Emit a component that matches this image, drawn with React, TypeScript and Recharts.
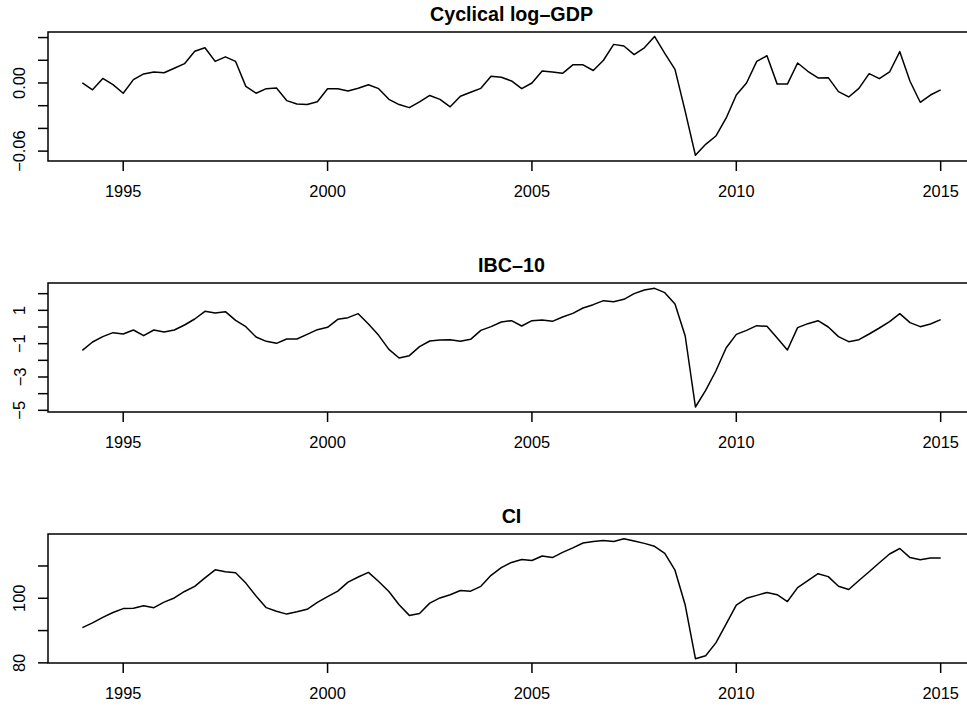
import React from 'react';
import { LineChart, Line, XAxis, YAxis, ReferenceArea } from 'recharts';

// quarterly series, 1994 Q1 .. 2015 Q1
const START_YEAR = 1994;

const gdpCycle = [
  0.0, -0.006, 0.004, -0.0015, -0.009, 0.003, 0.008, 0.0097, 0.009, 0.013,
  0.017, 0.028, 0.031, 0.019, 0.023, 0.019, -0.003, -0.009, -0.005, -0.0045,
  -0.0155, -0.0185, -0.019, -0.0165, -0.005, -0.005, -0.007, -0.0047, -0.0015, -0.005,
  -0.0144, -0.019, -0.0217, -0.0167, -0.011, -0.0144, -0.021, -0.0117, -0.0082, -0.0047,
  0.006, 0.005, 0.0018, -0.005, 0.0, 0.0106, 0.0097, 0.0085, 0.016, 0.016,
  0.011, 0.02, 0.034, 0.0326, 0.025, 0.031, 0.041, 0.026, 0.012, -0.025,
  -0.0637, -0.054, -0.0467, -0.031, -0.0106, 0.0, 0.019, 0.024, -0.001, -0.001,
  0.0176, 0.0103, 0.0044, 0.0047, -0.0076, -0.0123, -0.0047, 0.0082, 0.0038, 0.0097,
  0.0276, 0.0015, -0.017, -0.0106, -0.006,
];

const ibc10 = [
  -1.4, -0.9, -0.58, -0.34, -0.42, -0.18, -0.52, -0.18, -0.3, -0.18,
  0.12, 0.48, 0.94, 0.84, 0.92, 0.4, 0.02, -0.6, -0.86, -0.98,
  -0.72, -0.72, -0.44, -0.16, -0.02, 0.46, 0.56, 0.8, 0.18, -0.5,
  -1.34, -1.86, -1.72, -1.18, -0.84, -0.78, -0.76, -0.86, -0.74, -0.2,
  0.02, 0.3, 0.38, 0.06, 0.38, 0.42, 0.34, 0.6, 0.82, 1.14,
  1.34, 1.58, 1.52, 1.66, 2.0, 2.22, 2.32, 2.06, 1.38, -0.54,
  -4.8, -3.8, -2.64, -1.26, -0.44, -0.2, 0.08, 0.04, -0.66, -1.38,
  -0.04, 0.2, 0.38, 0.0, -0.58, -0.88, -0.76, -0.42, -0.06, 0.32,
  0.8, 0.26, 0.02, 0.18, 0.44,
];

const ci = [
  90.9, 92.4, 94.1, 95.6, 96.8, 96.9, 97.7, 97.1, 98.8, 100.1,
  102.1, 103.7, 106.3, 108.8, 108.2, 107.9, 104.7, 100.7, 97.1, 96.0,
  95.1, 95.8, 96.6, 98.7, 100.5, 102.2, 105.0, 106.6, 108.0, 105.2,
  102.1, 98.0, 94.7, 95.3, 98.5, 100.1, 101.1, 102.4, 102.2, 103.7,
  107.1, 109.5, 111.1, 112.0, 111.7, 113.1, 112.6, 114.2, 115.6, 117.1,
  117.6, 117.9, 117.6, 118.4, 117.7, 117.0, 116.1, 113.9, 108.7, 97.9,
  81.3, 82.2, 86.2, 92.0, 97.9, 100.0, 100.9, 101.8, 101.1, 99.0,
  103.3, 105.5, 107.6, 106.7, 103.7, 102.7, 105.5, 108.2, 111.0, 113.7,
  115.4, 112.6, 111.9, 112.5, 112.5,
];

const yearTicks = [1995, 2000, 2005, 2010, 2015];
const X_DOMAIN = [1993.16, 2015.84];

const minus = (s: string) => s.replace('-', '\u2212');

const panels = [
  {
    title: 'Cyclical log\u2013GDP',
    values: gdpCycle,
    domain: [-0.0687, 0.0449],
    ticks: [-0.06, -0.04, -0.02, 0, 0.02, 0.04],
    labelled: [-0.06, 0],
    fmt: (v: number) => minus(v.toFixed(2)),
    top: 0,
  },
  {
    title: 'IBC\u201310',
    values: ibc10,
    domain: [-5.1, 2.64],
    ticks: [-5, -4, -3, -2, -1, 0, 1, 2],
    labelled: [-5, -3, -1, 1],
    fmt: (v: number) => minus(String(v)),
    top: 251,
  },
  {
    title: 'CI',
    values: ci,
    domain: [79.96, 119.9],
    ticks: [80, 90, 100, 110],
    labelled: [80, 100],
    fmt: (v: number) => String(v),
    top: 502,
  },
];

const FONT = '"Liberation Sans", Arial, Helvetica, sans-serif';
const TICK_FS = 16.4;
const CHART_W = 985;

const XTick = ({ x, y, payload }: any) => (
  <text x={x} y={y + 24} textAnchor="middle" fontSize={TICK_FS} fontFamily={FONT} fill="#000">
    {payload.value}
  </text>
);

const makeYTick = (labelled: number[], fmt: (v: number) => string) => ({ x, y, payload }: any) => {
  if (!labelled.some((l) => Math.abs(l - payload.value) < 1e-9)) return <g />;
  const bx = x - 10.5;
  return (
    <text
      x={bx}
      y={y}
      transform={`rotate(-90 ${bx} ${y})`}
      textAnchor="middle"
      fontSize={TICK_FS}
      fontFamily={FONT}
      fill="#000"
    >
      {fmt(payload.value)}
    </text>
  );
};

function Panel({ p }: { p: (typeof panels)[number] }) {
  const data = p.values.map((v, i) => ({ t: START_YEAR + i / 4, v }));
  return (
    <div style={{ position: 'absolute', left: 0, top: p.top, width: CHART_W, height: 211 }}>
      <LineChart width={CHART_W} height={211} data={data} margin={{ top: 32, right: 10, bottom: 0, left: 0 }}>
        <XAxis
          dataKey="t"
          type="number"
          domain={X_DOMAIN}
          ticks={yearTicks}
          interval={0}
          allowDataOverflow
          height={50}
          tickSize={10}
          axisLine={false}
          tickLine={{ stroke: '#000', strokeWidth: 1.5 }}
          tick={XTick}
        />
        <YAxis
          type="number"
          domain={p.domain}
          ticks={p.ticks}
          interval={0}
          allowDataOverflow
          width={48}
          tickSize={10}
          axisLine={false}
          tickLine={{ stroke: '#000', strokeWidth: 1.5 }}
          tick={makeYTick(p.labelled, p.fmt)}
        />
        <ReferenceArea
          x1={X_DOMAIN[0]}
          x2={X_DOMAIN[1]}
          y1={p.domain[0]}
          y2={p.domain[1]}
          fill="none"
          stroke="#000"
          strokeWidth={1.5}
        />
        <Line
          type="linear"
          dataKey="v"
          stroke="#000"
          strokeWidth={1.5}
          strokeLinejoin="round"
          dot={false}
          isAnimationActive={false}
        />
      </LineChart>
    </div>
  );
}

export default function App() {
  return (
    <div
      style={{
        position: 'absolute',
        left: 0,
        top: 0,
        width: 967,
        height: 706,
        overflow: 'hidden',
        background: '#fff',
        fontFamily: FONT,
      }}
    >
      {panels.map((p) => (
        <Panel key={p.title} p={p} />
      ))}
      <svg width={967} height={706} style={{ position: 'absolute', left: 0, top: 0, pointerEvents: 'none' }}>
        {panels.map((p) => (
          <text
            key={p.title}
            x={511.5}
            y={p.top + 20.5}
            textAnchor="middle"
            fontSize={19.7}
            fontWeight="bold"
            fontFamily={FONT}
            fill="#000"
          >
            {p.title}
          </text>
        ))}
      </svg>
    </div>
  );
}
